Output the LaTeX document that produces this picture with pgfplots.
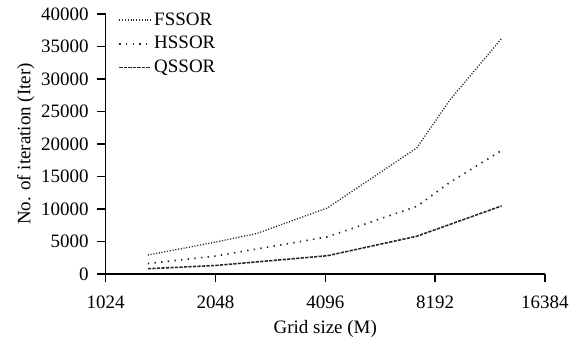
\documentclass[border=0pt]{standalone}
\usepackage{pgfplots}
\pgfplotsset{compat=1.18}
\usepackage{fontspec}
\setmainfont{Liberation Serif}
\definecolor{lc}{HTML}{262626}
\begin{document}
\begin{tikzpicture}
\begin{axis}[
  scale only axis,
  width=282.7pt, height=167.3pt,
  xmode=log, log basis x=2,
  xmin=1024, xmax=16384,
  ymin=0, ymax=40000,
  xtick={1024,2048,4096,8192,16384},
  xticklabels={1024,2048,4096,8192,16384},
  ytick={0,5000,...,40000},
  scaled y ticks=false,
  /pgf/number format/1000 sep={},
  /pgf/number format/assume math mode=true,
  yticklabel style={/pgf/number format/fixed, xshift=-2pt},
  xticklabel style={yshift=-5pt, inner xsep=0pt},
  axis lines*=left,
  axis line style={line width=0.9pt, black},
  tick style={line width=0.9pt, black},
  tick align=outside,
  major tick length=5.5pt,
  font=\fontsize{12.2pt}{14pt}\selectfont,
  tick label style={font=\fontsize{12.2pt}{14pt}\selectfont},
  xlabel={Grid size (M)},
  ylabel={No. of iteration (Iter)},
  xlabel style={yshift=-0.7pt},
  ylabel style={yshift=-2.5pt},
  legend style={draw=none, fill=none, at={(rel axis cs:0.018,1.03)}, anchor=north west,
    font=\fontsize{12.2pt}{14pt}\selectfont, row sep=1.6pt},
  legend cell align=left,
  legend image code/.code={\draw[#1] (0cm,0cm) -- (0.7cm,0cm);},
]
\addplot[lc, line width=0.85pt, dash pattern=on 0.7pt off 1.1pt] coordinates {
(1336,2900) (2048,4900) (2650,6200) (4150,10150) (7300,19400) (9000,26800) (12470,36250)};
\addlegendentry{FSSOR}
\addplot[lc, line width=1.05pt, dash pattern=on 0.9pt off 3.4pt] coordinates {
(1336,1600) (2048,2750) (4150,5700) (7300,10400) (9000,14100) (12470,19000)};
\addlegendentry{HSSOR}
\addplot[lc, line width=1pt, dash pattern=on 2.1pt off 0.8pt] coordinates {
(1336,800) (2048,1300) (4150,2800) (7300,5800) (12470,10470)};
\addlegendentry{QSSOR}
\end{axis}
\path (current axis.south west) +(-68pt,-43.6pt) (current axis.north east) +(15.5pt,9pt);
\end{tikzpicture}
\end{document}
